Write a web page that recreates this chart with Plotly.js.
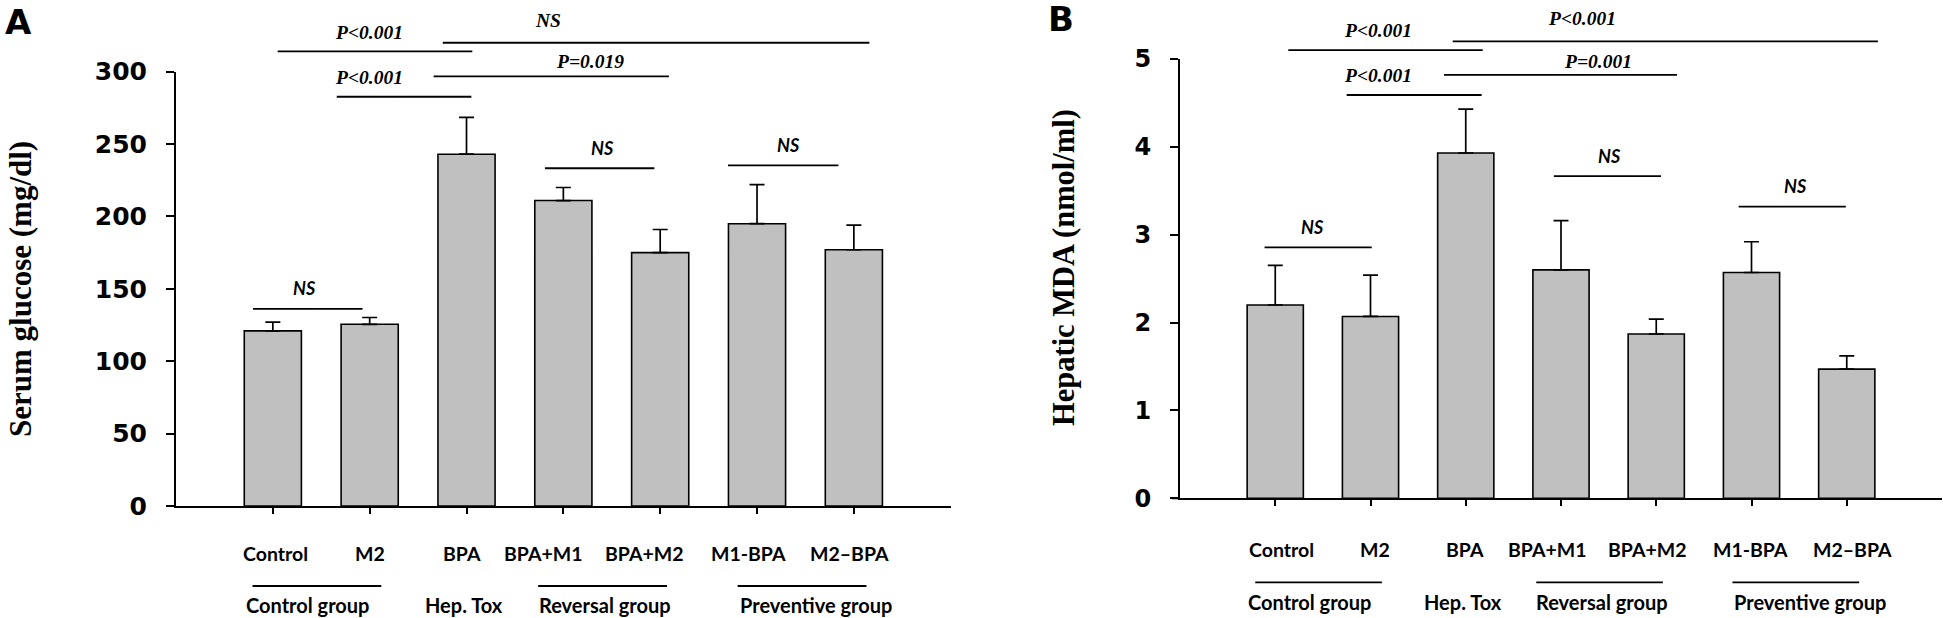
<!DOCTYPE html>
<html>
<head>
<meta charset="utf-8">
<script src="https://cdn.plot.ly/plotly-3.0.1.min.js"></script>
<style>html,body{margin:0;padding:0;background:#fff;}</style>
</head>
<body>
<div id="chart" style="width:1943px;height:618px;"></div>
<script>
// ---------------- data ----------------
const categories = ['Control', 'M2', 'BPA', 'BPA+M1', 'BPA+M2', 'M1-BPA', 'M2\u2013BPA'];
const glucose    = [121, 125.5, 243, 211, 175, 195, 177];
const glucoseErr = [6, 4.7, 25.5, 9, 16, 27, 17];
const mda        = [2.2, 2.07, 3.93, 2.6, 1.87, 2.57, 1.47];
const mdaErr     = [0.45, 0.47, 0.50, 0.56, 0.17, 0.35, 0.15];
const yTicksA    = [0, 50, 100, 150, 200, 250, 300];
const yTicksB    = [0, 1, 2, 3, 4, 5];
const groupNames = ['Control group', 'Hep. Tox', 'Reversal group', 'Preventive group'];

// significance annotations: [from, to, level, label, labelX, labelY, style]
const sigA = [
  [0.05, 2.06, 314.0, 'P<0.001', 0.99, 327, 'serif'],
  [1.755, 6.16, 320.0, 'NS', 2.84, 335.7, 'serif'],
  [1.66, 4.09, 296.8, 'P=0.019', 3.28, 306.9, 'serif'],
  [0.66, 2.05, 282.7, 'P<0.001', 0.99, 296.3, 'serif'],
  [2.81, 3.94, 233.3, 'NS', 3.40, 247.5, 'sans'],
  [4.70, 5.84, 235.3, 'NS', 5.32, 249.4, 'sans'],
  [-0.205, 0.926, 136.1, 'NS', 0.327, 150.4, 'sans']
];
const sigB = [
  [0.137, 2.178, 5.10, 'P<0.001', 1.083, 5.33, 'serif'],
  [1.863, 6.327, 5.20, 'P<0.001', 3.22, 5.46, 'serif'],
  [1.772, 4.218, 4.82, 'P=0.001', 3.39, 4.97, 'serif'],
  [0.75, 2.167, 4.59, 'P<0.001', 1.074, 4.81, 'serif'],
  [2.925, 4.05, 3.666, 'NS', 3.51, 3.896, 'sans'],
  [4.865, 5.99, 3.32, 'NS', 5.467, 3.55, 'sans'],
  [-0.112, 1.013, 2.857, 'NS', 0.394, 3.086, 'sans']
];

// ---------------- layout geometry ----------------
const W = 1943, H = 618;
const PA = {x0: 176, x1: 950.7, y0: 506, y1: 71.7, xr: [-1, 7], yr: [0, 300]};
const PB = {x0: 1180, x1: 1942, y0: 498.3, y1: 59, xr: [-1, 7], yr: [0, 5]};
const labelShiftA = [3, 0, -5, -20, -16, -9, -4];
const labelShiftB = [6, 4, -1, -14, -9, -1, 6];
// group underline spans (category units); null = no underline
const groupSpans = [[-0.21, 1.12], null, [2.74, 4.07], [4.80, 6.13]];
const groupTextX = [0.36, 1.97, 3.43, 5.61];

function cxPix(P, c) { return P.x0 + (c - P.xr[0]) / (P.xr[1] - P.xr[0]) * (P.x1 - P.x0); }
function vyPix(P, v) { return P.y0 - (v - P.yr[0]) / (P.yr[1] - P.yr[0]) * (P.y0 - P.y1); }
const px = p => p / W;
const py = p => 1 - p / H;

const catIdx = categories.map((c, i) => i);

function barTrace(vals, errs, xa, ya) {
  return {
    type: 'bar', x: catIdx, y: vals, xaxis: xa, yaxis: ya, width: 0.59,
    marker: {color: '#c0c0c0', line: {color: '#000', width: 1.6}},
    error_y: {type: 'data', symmetric: false, array: errs, arrayminus: errs.map(() => 0),
              color: '#000', thickness: 1.7, width: 7.5},
    hoverinfo: 'none'
  };
}

const data = [barTrace(glucose, glucoseErr, 'x', 'y'), barTrace(mda, mdaErr, 'x2', 'y2')];

function xAxis(P, anchor) {
  return {domain: [px(P.x0), px(P.x1)], range: P.xr, anchor: anchor,
    showgrid: false, zeroline: false, showline: true, linecolor: '#000', linewidth: 2,
    ticks: 'outside', ticklen: 6, tickwidth: 2, tickcolor: '#000',
    tickvals: catIdx, showticklabels: false, fixedrange: true};
}
function yAxis(P, anchor, tv, size) {
  return {domain: [py(P.y0), py(P.y1)], range: P.yr, anchor: anchor,
    showgrid: false, zeroline: false, showline: true, linecolor: '#000', linewidth: 2,
    ticks: 'outside', ticklen: 8, tickwidth: 2, tickcolor: '#000', tickvals: tv,
    tickfont: {family: 'DejaVu Sans', size: size, weight: 'bold', color: '#000'},
    ticklabelstandoff: 14, fixedrange: true};
}

const shapes = [];
const annotations = [];
const lineStyle = {color: '#000', width: 1.8};
const serifFont = {family: 'Liberation Serif', size: 19.5, weight: 'bold', style: 'italic', color: '#000'};
const sansFont = {family: 'Lato', size: 18, weight: 'bold', style: 'italic', color: '#000'};
const catFont = {family: 'Lato', size: 19.5, weight: 'bold', color: '#000'};
const grpFont = {family: 'Lato', size: 20, weight: 'bold', color: '#000'};

function decorate(P, sig, shifts, catDy, ulDy, grpDy) {
  // x-axis line stub left of the y axis
  shapes.push({type: 'line', xref: 'paper', yref: 'paper', x0: px(P.x0 - 8), x1: px(P.x0),
    y0: py(P.y0), y1: py(P.y0), line: {color: '#000', width: 2}});
  sig.forEach(s => {
    shapes.push({type: 'line', xref: 'paper', yref: 'paper',
      x0: px(cxPix(P, s[0])), x1: px(cxPix(P, s[1])), y0: py(vyPix(P, s[2])), y1: py(vyPix(P, s[2])), line: lineStyle});
    annotations.push({xref: 'paper', yref: 'paper', x: px(cxPix(P, s[4])), y: py(vyPix(P, s[5])),
      text: s[3], showarrow: false, xanchor: 'center', yanchor: 'middle',
      font: s[6] === 'serif' ? serifFont : sansFont});
  });
  categories.forEach((c, i) => {
    annotations.push({xref: 'paper', yref: 'paper', x: px(cxPix(P, i) + shifts[i]), y: py(P.y0 + catDy),
      text: c, showarrow: false, xanchor: 'center', yanchor: 'middle', font: catFont});
  });
  groupNames.forEach((g, i) => {
    const sp = groupSpans[i];
    if (sp) shapes.push({type: 'line', xref: 'paper', yref: 'paper', x0: px(cxPix(P, sp[0])), x1: px(cxPix(P, sp[1])),
      y0: py(P.y0 + ulDy), y1: py(P.y0 + ulDy), line: lineStyle});
    annotations.push({xref: 'paper', yref: 'paper', x: px(cxPix(P, groupTextX[i])), y: py(P.y0 + grpDy),
      text: g, showarrow: false, xanchor: 'center', yanchor: 'middle', font: grpFont});
  });
}
decorate(PA, sigA, labelShiftA, 47, 80, 99);
decorate(PB, sigB, labelShiftB, 51, 84, 104);

// axis titles and panel letters
annotations.push({xref: 'paper', yref: 'paper', x: px(21), y: py(289), text: 'Serum glucose (mg/dl)', textangle: -90,
  showarrow: false, xanchor: 'center', yanchor: 'middle',
  font: {family: 'Liberation Serif', size: 31, weight: 'bold', color: '#000'}});
annotations.push({xref: 'paper', yref: 'paper', x: px(1064), y: py(268), text: 'Hepatic MDA (nmol/ml)', textangle: -90,
  showarrow: false, xanchor: 'center', yanchor: 'middle',
  font: {family: 'Liberation Serif', size: 30.5, weight: 'bold', color: '#000'}});
annotations.push({xref: 'paper', yref: 'paper', x: px(18), y: py(22), text: 'A', showarrow: false,
  xanchor: 'center', yanchor: 'middle', font: {family: 'DejaVu Sans', size: 34, weight: 'bold', color: '#000'}});
annotations.push({xref: 'paper', yref: 'paper', x: px(1061), y: py(19), text: 'B', showarrow: false,
  xanchor: 'center', yanchor: 'middle', font: {family: 'DejaVu Sans', size: 34, weight: 'bold', color: '#000'}});

const layout = {
  width: W, height: H, margin: {l: 0, r: 0, t: 0, b: 0},
  paper_bgcolor: '#fff', plot_bgcolor: '#fff', showlegend: false,
  xaxis: xAxis(PA, 'y'), yaxis: yAxis(PA, 'x', yTicksA, 25),
  xaxis2: xAxis(PB, 'y2'), yaxis2: yAxis(PB, 'x2', yTicksB, 24),
  shapes: shapes, annotations: annotations
};

Plotly.newPlot('chart', data, layout, {displayModeBar: false, staticPlot: true});
</script>
</body>
</html>
